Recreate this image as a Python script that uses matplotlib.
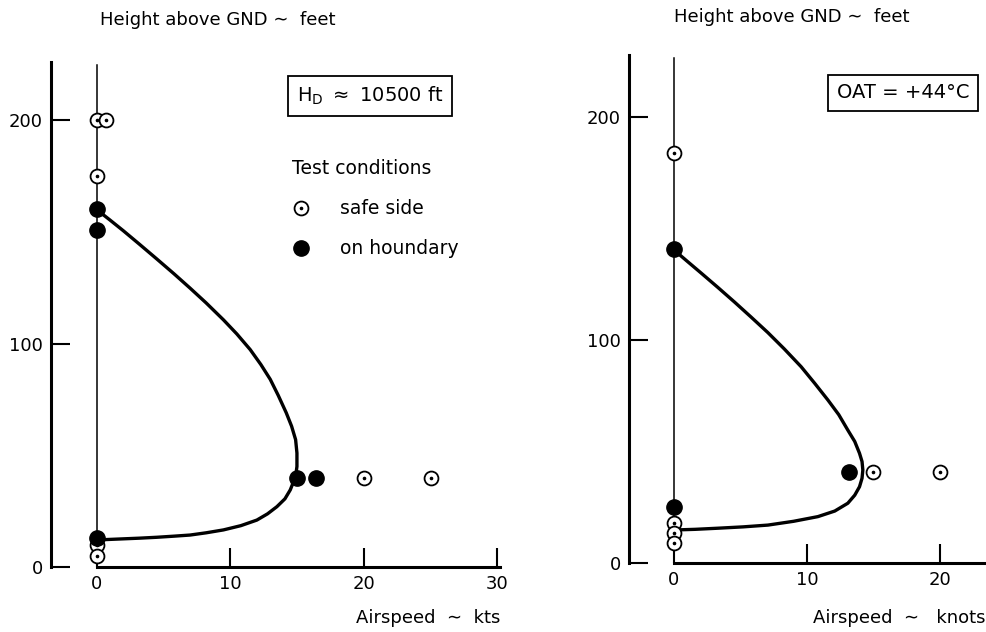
import matplotlib.pyplot as plt

plt.rcParams['font.family'] = ['DejaVu Sans']
plt.rcParams['mathtext.default'] = 'regular'

# left panel: H_D ~ 10500 ft
l_safe_x = [0, 0.7, 0, 0, 0, 20, 25]
l_safe_y = [200, 200, 175, 10, 5, 40, 40]
l_bound_x = [0, 0, 0, 15, 16.4]
l_bound_y = [160, 151, 13, 40, 40]
l_curve_x = [0, 1.0, 2.0, 3.2, 4.5, 5.8, 7.0, 8.2, 9.5, 10.5, 11.5, 12.3, 13.0, 13.6, 14.2, 14.6,
             14.9, 15.0, 15.0, 14.9, 14.5, 14.1, 13.5, 12.8, 12.0, 10.8, 9.5, 8.2, 7.0, 5.8, 4.5,
             3.2, 2.0, 0]
l_curve_y = [160, 155.3, 150.5, 144.5, 137.9, 131.2, 124.8, 118.2, 110.6, 104.3, 97.3, 90.6, 84,
             76.8, 69, 63, 57, 51, 45, 40.5, 34.5, 30.5, 27, 23.8, 21, 18.5, 16.6, 15.3, 14.3,
             13.8, 13.3, 12.9, 12.6, 12.1]

# right panel: OAT = +44 C
r_safe_x = [0, 0, 0, 0, 15, 20]
r_safe_y = [184, 18, 13.5, 9, 41, 41]
r_bound_x = [0, 0, 13.2]
r_bound_y = [141, 25, 41]
r_curve_x = [0, 1.0, 2.05, 3.3, 4.56, 5.8, 7.07, 8.3, 9.57, 10.6, 11.58, 12.4, 13.08, 13.6, 13.96,
             14.15, 14.21, 14.15, 13.96, 13.6, 13.08, 12.1, 10.83, 9.0, 7.07, 5.2, 3.31, 1.6, 0]
r_curve_y = [140.4, 135.3, 130, 123.6, 117, 110.3, 103.3, 96, 88, 80.5, 73.1, 66.5, 59.6, 54.5,
             49.2, 45.5, 41.7, 38, 34.2, 30.4, 26.8, 23.3, 20.8, 18.7, 17, 16.2, 15.6, 15.1, 14.8]

W, H = 987, 632
fig = plt.figure(figsize=(W / 100, H / 100), dpi=100)


def panel(rect, xlim, ylim, xticks, sx, sy, bx, by, cx, cy):
    ax = fig.add_axes(rect)
    ax.set_xlim(*xlim)
    ax.set_ylim(*ylim)
    ax.spines['top'].set_visible(False)
    ax.spines['right'].set_visible(False)
    ax.spines['left'].set_linewidth(2.2)
    ax.spines['bottom'].set_linewidth(2.2)
    ax.spines['bottom'].set_bounds(0, xlim[1])
    ax.set_xticks(xticks)
    ax.set_yticks([0, 100, 200])
    ax.tick_params(direction='in', length=14, width=1.5, labelsize=13, pad=6)
    ax.axvline(0, ymax=0.995, color='black', lw=1.1, zorder=1)
    ax.plot(cx, cy, color='black', lw=2.4, zorder=2, solid_joinstyle='round')
    safe, = ax.plot(sx, sy, 'o', ms=10, mfc='white', mec='black', mew=1.3,
                    ls='none', zorder=3, label='safe side')
    dot, = ax.plot(sx, sy, 'o', ms=1.6, color='black', ls='none', zorder=4)
    bound, = ax.plot(bx, by, 'o', ms=11, color='black', ls='none', zorder=5,
                     label='on houndary')
    return ax, (safe, dot), bound


axl, safe, bound = panel([51 / W, 1 - 567 / H, 449 / W, 505 / H], (-3.41, 30.2), (0, 226),
                         [0, 10, 20, 30], l_safe_x, l_safe_y, l_bound_x, l_bound_y,
                         l_curve_x, l_curve_y)
axr, _, _ = panel([629 / W, 1 - 563 / H, 356 / W, 508 / H], (-3.38, 23.4), (0, 227.8),
                  [0, 10, 20], r_safe_x, r_safe_y, r_bound_x, r_bound_y,
                  r_curve_x, r_curve_y)

# titles / labels
fig.text(218 / W, 1 - 20 / H, 'Height above GND \u223c  feet', ha='center', va='center', fontsize=13)
fig.text(792 / W, 1 - 17 / H, 'Height above GND \u223c  feet', ha='center', va='center', fontsize=13)
fig.text(500 / W, 1 - 618 / H, 'Airspeed  \u223c  kts', ha='right', va='center', fontsize=13)
fig.text(986 / W, 1 - 618 / H, 'Airspeed  \u223c   knots', ha='right', va='center', fontsize=13)

box = dict(boxstyle='square,pad=0.45', fc='white', ec='black', lw=1.3)
fig.text(370 / W, 1 - 96 / H, r'$H_D$ $\approx$ 10500 ft', ha='center', va='center',
         fontsize=14, bbox=box)
fig.text(903 / W, 1 - 93 / H, 'OAT = +44\u00b0C', ha='center', va='center',
         fontsize=14, bbox=box)

leg = axl.legend(handles=[safe, bound], labels=['safe side', 'on houndary'],
                 title='Test conditions', loc='upper left',
                 bbox_to_anchor=(292 / W, 1 - 159 / H), bbox_transform=fig.transFigure,
                 frameon=False, fontsize=13.5, title_fontsize=13.5, handlelength=1.0,
                 handletextpad=1.55, labelspacing=1.13, borderpad=0, borderaxespad=0,
                 alignment='left')

fig.savefig('out.png', dpi=100)
